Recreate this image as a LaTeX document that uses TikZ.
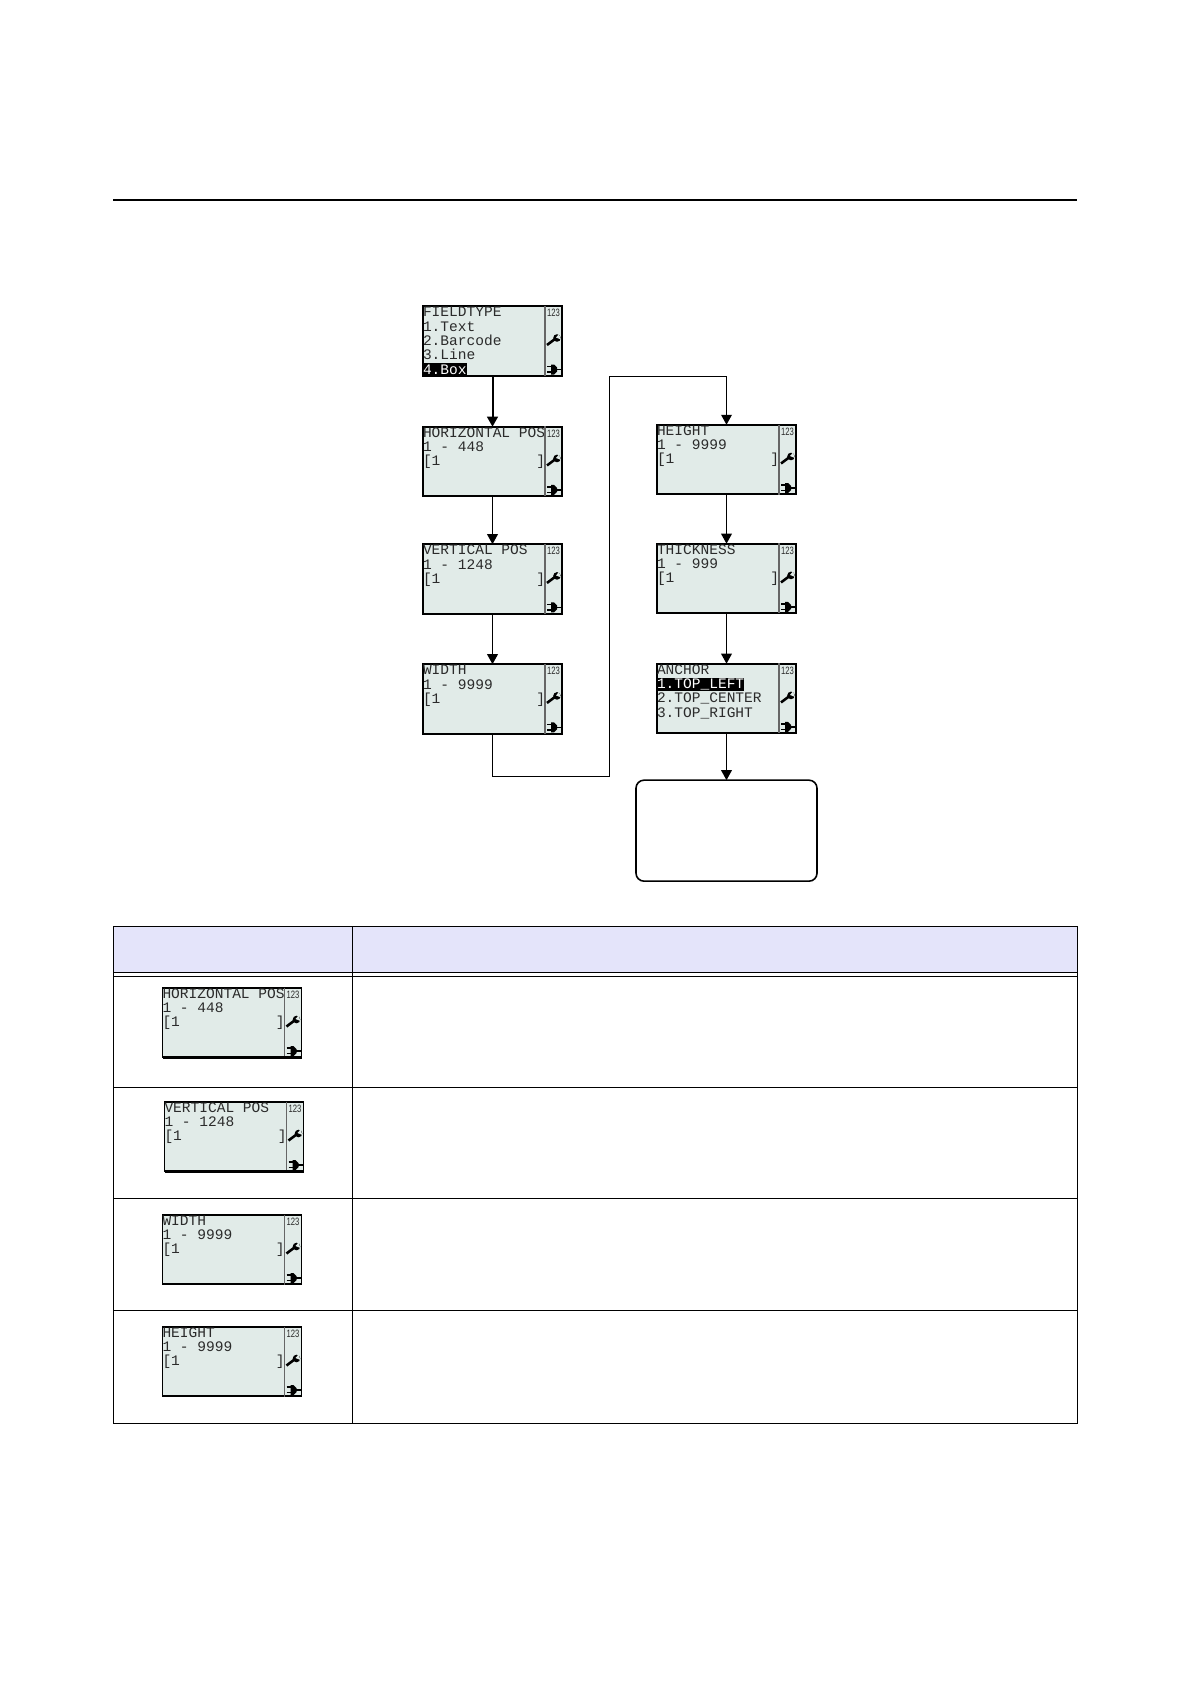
\documentclass[tikz,border=0pt]{standalone}
\usepackage{xcolor}
\usepackage{fontspec}
\usepackage{tikz}
\usetikzlibrary{arrows.meta, positioning}
\newfontfamily\lcdfont{Liberation Mono}
\newfontfamily\sidefont{Liberation Sans}
\definecolor{lcdback}{HTML}{E1EBE8}
\definecolor{lcdink}{HTML}{2B2B2B}
\definecolor{headfill}{HTML}{E4E4FA}
\newcommand{\lcdsel}[1]{{\setlength{\fboxsep}{0pt}\colorbox{black}{\textcolor{white}{\rule[-2pt]{0pt}{10.2pt}#1}}}}

\begin{document}
\begin{tikzpicture}[x=0.75pt, y=-0.75pt]
    % Define styles
    \tikzset{
        lcd/.style={rectangle, draw=black, fill=lcdback, line width=1.5pt, outer sep=0pt, inner xsep=0pt, inner ysep=0pt,
            text=lcdink, text width=104.25pt, text height=8pt, text depth=44.1pt,
            font=\lcdfont\fontsize{10.9pt}{10.7pt}\selectfont,
            execute at begin node={\spaceskip=6.54pt\relax}},
        lcdrow/.style={lcd, line width=1.2pt},
        endbox/.style={rectangle, draw=black, line width=1.2pt, rounded corners=6pt, minimum width=135.75pt, minimum height=75.75pt, outer sep=0pt},
        flow/.style={draw=black, line width=1pt, -{Triangle[length=7.5pt, width=8pt]}},
        flowmain/.style={flow, line width=1.5pt},
        lcdbar/.pic={
            \draw[draw=black!60, line width=1.1pt] (-17,-35) -- (-17,35);
            \node[font=\sidefont\fontsize{8pt}{8pt}\selectfont, text=lcdink, xscale=0.72, inner sep=0pt] (-num) at (-8.5,-28) {123};
            \draw[black, line width=1.9pt] (-15,4) -- (-7,-2);
            \fill[black] (-5,-3) circle [radius=3.8];
            \fill[lcdback] (-3,-7) -- (-6,-3.5) -- (-1,-1.5) -- cycle;
            \draw[black, line width=1.1pt] (-15,25.5) -- (-10,25.5) (-15,31) -- (-10,31) (-7,28.5) -- (-1,28.5);
            \fill[black] (-11,23.5) -- (-8,23.5) -- (-5,26.5) -- (-5,30.5) -- (-8,33.5) -- (-11,33.5) -- cycle;
        }
    }

    % Nodes
    \node[lcd] (fieldtype) at (492.5,341) {FIELDTYPE\\1.Text\\2.Barcode\\3.Line\\\lcdsel{4.Box}};
    \node[lcd, below=38.25pt of fieldtype] (hpos) {HORIZONTAL POS\\1 - 448\\{[}1~~~~~~~~~~~]};
    \node[lcd, below=36pt of hpos] (vpos) {VERTICAL POS\\1 - 1248\\{[}1~~~~~~~~~~~]};
    \node[lcd, below=37.9pt of vpos] (width) {WIDTH\\1 - 9999\\{[}1~~~~~~~~~~~]};

    \node[lcd] (height) at (726.5,459.5) {HEIGHT\\1 - 9999\\{[}1~~~~~~~~~~~]};
    \node[lcd, below=37.1pt of height] (thickness) {THICKNESS\\1 - 999\\{[}1~~~~~~~~~~~]};
    \node[lcd, below=37.9pt of thickness] (anchorpos) {ANCHOR\\\lcdsel{1.TOP\_LEFT}\\2.TOP\_CENTER\\3.TOP\_RIGHT};
    \node[endbox, below=35.25pt of anchorpos] (finish) {};

    \coordinate (turnlow) at (609.5,776.5);
    \coordinate (turnhigh) at (609.5,376.5);

    \pic (fieldtypebar) at (fieldtype.east) {lcdbar};
    \pic (hposbar) at (hpos.east) {lcdbar};
    \pic (vposbar) at (vpos.east) {lcdbar};
    \pic (widthbar) at (width.east) {lcdbar};
    \pic (heightbar) at (height.east) {lcdbar};
    \pic (thicknessbar) at (thickness.east) {lcdbar};
    \pic (anchorbar) at (anchorpos.east) {lcdbar};

    % Arrows
    \draw[flowmain] (fieldtype) -- (hpos);
    \draw[flow] (hpos) -- (vpos);
    \draw[flow] (vpos) -- (width);
    \draw[flow] (width.south) |- (turnlow) -- (turnhigh) -| (height.north);
    \draw[flow] (height) -- (thickness);
    \draw[flow] (thickness) -- (anchorpos);
    \draw[flow] (anchorpos) -- (finish);

    % Page rule and table
    \draw[black, line width=1.5pt] (113,200) -- (1077,200);
    \fill[headfill] (113.5,926.5) rectangle (1077.5,972.5);
    \draw[black, line width=0.75pt] (113.5,926.5) rectangle (1077.5,1423.5);
    \draw[black, line width=0.75pt] (352.5,926.5) -- (352.5,1423.5);
    \draw[black, line width=0.75pt] (113.5,972.5) -- (1077.5,972.5);
    \draw[black, line width=0.75pt] (113.5,976.5) -- (1077.5,976.5);
    \draw[black, line width=0.75pt] (113.5,1087.5) -- (1077.5,1087.5);
    \draw[black, line width=0.75pt] (113.5,1198.5) -- (1077.5,1198.5);
    \draw[black, line width=0.75pt] (113.5,1310.5) -- (1077.5,1310.5);

    \node[lcdrow] (rowhpos) at (232,1022.5) {HORIZONTAL POS\\1 - 448\\{[}1~~~~~~~~~~~]};
    \node[lcdrow] (rowvpos) at (234,1136.5) {VERTICAL POS\\1 - 1248\\{[}1~~~~~~~~~~~]};
    \node[lcdrow] (rowwidth) at (232,1249.5) {WIDTH\\1 - 9999\\{[}1~~~~~~~~~~~]};
    \node[lcdrow] (rowheight) at (232,1361.5) {HEIGHT\\1 - 9999\\{[}1~~~~~~~~~~~]};
    \pic (rowhposbar) at (rowhpos.east) {lcdbar};
    \pic (rowvposbar) at (rowvpos.east) {lcdbar};
    \pic (rowwidthbar) at (rowwidth.east) {lcdbar};
    \pic (rowheightbar) at (rowheight.east) {lcdbar};
    \draw[black, line width=2pt] (rowhpos.south west) -- (rowhpos.south east);
    \draw[black, line width=2pt] (rowvpos.south west) -- (rowvpos.south east);

    \useasboundingbox (0,0) rectangle (1190,1684);
\end{tikzpicture}
\end{document}
